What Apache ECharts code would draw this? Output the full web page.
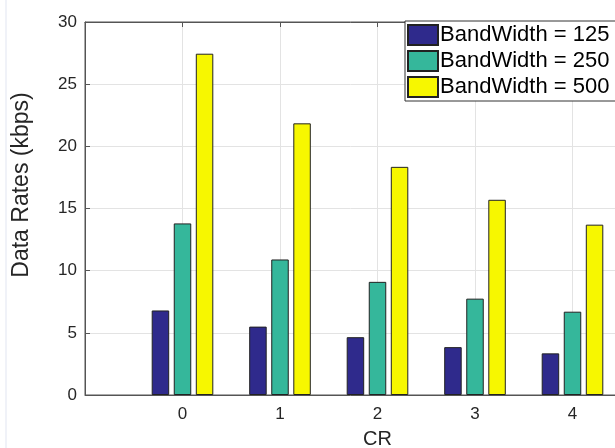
<!DOCTYPE html>
<html>
<head>
<meta charset="utf-8">
<script src="https://cdn.jsdelivr.net/npm/echarts@6/dist/echarts.min.js"></script>
<style>
html,body{margin:0;padding:0;background:#fff;}
#chart{width:615px;height:448px;}
</style>
</head>
<body>
<div id="chart"></div>
<script>
const categories = [0, 1, 2, 3, 4];
const bw125 = [6.8, 5.5, 4.65, 3.85, 3.35];
const bw250 = [13.8, 10.9, 9.1, 7.75, 6.7];
const bw500 = [27.45, 21.85, 18.35, 15.7, 13.7];
const seriesNames = ['BandWidth = 125', 'BandWidth = 250', 'BandWidth = 500'];
const seriesColors = ['#2f2a8c', '#35b79b', '#f7f700'];
const yTicks = [0, 5, 10, 15, 20, 25, 30];

const FONT = 'Liberation Sans, Arial, sans-serif';
const chart = echarts.init(document.getElementById('chart'));

function pairs(vals) { return categories.map((c, i) => [c, vals[i]]); }
const allVals = [bw125, bw250, bw500];

const option = {
  animation: false,
  backgroundColor: '#ffffff',
  grid: { left: 85, top: 22, width: 585, height: 373, outerBoundsMode: 'none', containLabel: false,
    show: true, borderColor: '#555', borderWidth: 1, backgroundColor: 'transparent' },
  legend: {
    orient: 'vertical', left: 405, top: 21,
    itemWidth: 30, itemHeight: 20, itemGap: 4,
    padding: [3, 30, 3, 2],
    backgroundColor: '#fff', borderColor: '#333', borderWidth: 1,
    icon: 'rect',
    textStyle: { fontFamily: FONT, fontSize: 22, lineHeight: 20, color: '#000', padding: [0,0,0,-3] },
    data: seriesNames
  },
  xAxis: [{
    type: 'value', min: -1, max: 5, interval: 1,
    name: 'CR', nameLocation: 'middle', nameGap: 34,
    nameTextStyle: { fontFamily: FONT, fontSize: 20, color: '#262626' },
    axisLine: { show: true, onZero: false, lineStyle: { color: '#555', width: 1 } },
    axisTick: { show: true, inside: true, length: 5, lineStyle: { color: '#555' } },
    axisLabel: { fontFamily: FONT, fontSize: 17, color: '#262626', margin: 11,
      formatter: v => categories.indexOf(v) >= 0 ? String(v) : '' },
    splitLine: { show: true, lineStyle: { color: '#e3e3e3', width: 1 } }
  }, {
    type: 'value', min: -1, max: 5, interval: 1, position: 'top',
    axisLine: { show: true, onZero: false, lineStyle: { color: '#555', width: 1 } },
    axisTick: { show: true, inside: true, length: 5, lineStyle: { color: '#555' } },
    axisLabel: { show: false }, splitLine: { show: false }
  }],
  yAxis: {
    type: 'value', min: 0, max: 30, interval: 5,
    axisLine: { show: true, onZero: false, lineStyle: { color: '#555', width: 1 } },
    axisTick: { show: true, inside: true, length: 5, lineStyle: { color: '#555' } },
    axisLabel: { fontFamily: FONT, fontSize: 17, color: '#262626', margin: 8,
      formatter: v => yTicks.indexOf(v) >= 0 ? String(v) : '' },
    splitLine: { show: true, lineStyle: { color: '#e3e3e3', width: 1 } }
  },
  graphic: [
    { type: 'text', rotation: Math.PI / 2, x: 22, y: 185,
      style: { text: 'Data Rates (kbps)', font: '23px ' + FONT, fill: '#262626', textAlign: 'center', textVerticalAlign: 'middle' } },
    { type: 'rect', shape: { x: 5, y: 0, width: 2, height: 448 }, style: { fill: '#f0f2f8' } }
  ],
  series: seriesNames.map((n, i) => ({
    name: n, type: 'bar', xAxisIndex: 0,
    barWidth: 17.5, barGap: '26%',
    itemStyle: { color: seriesColors[i], borderColor: '#222', borderWidth: 1 },
    data: pairs(allVals[i])
  }))
};
chart.setOption(option);
</script>
</body>
</html>
